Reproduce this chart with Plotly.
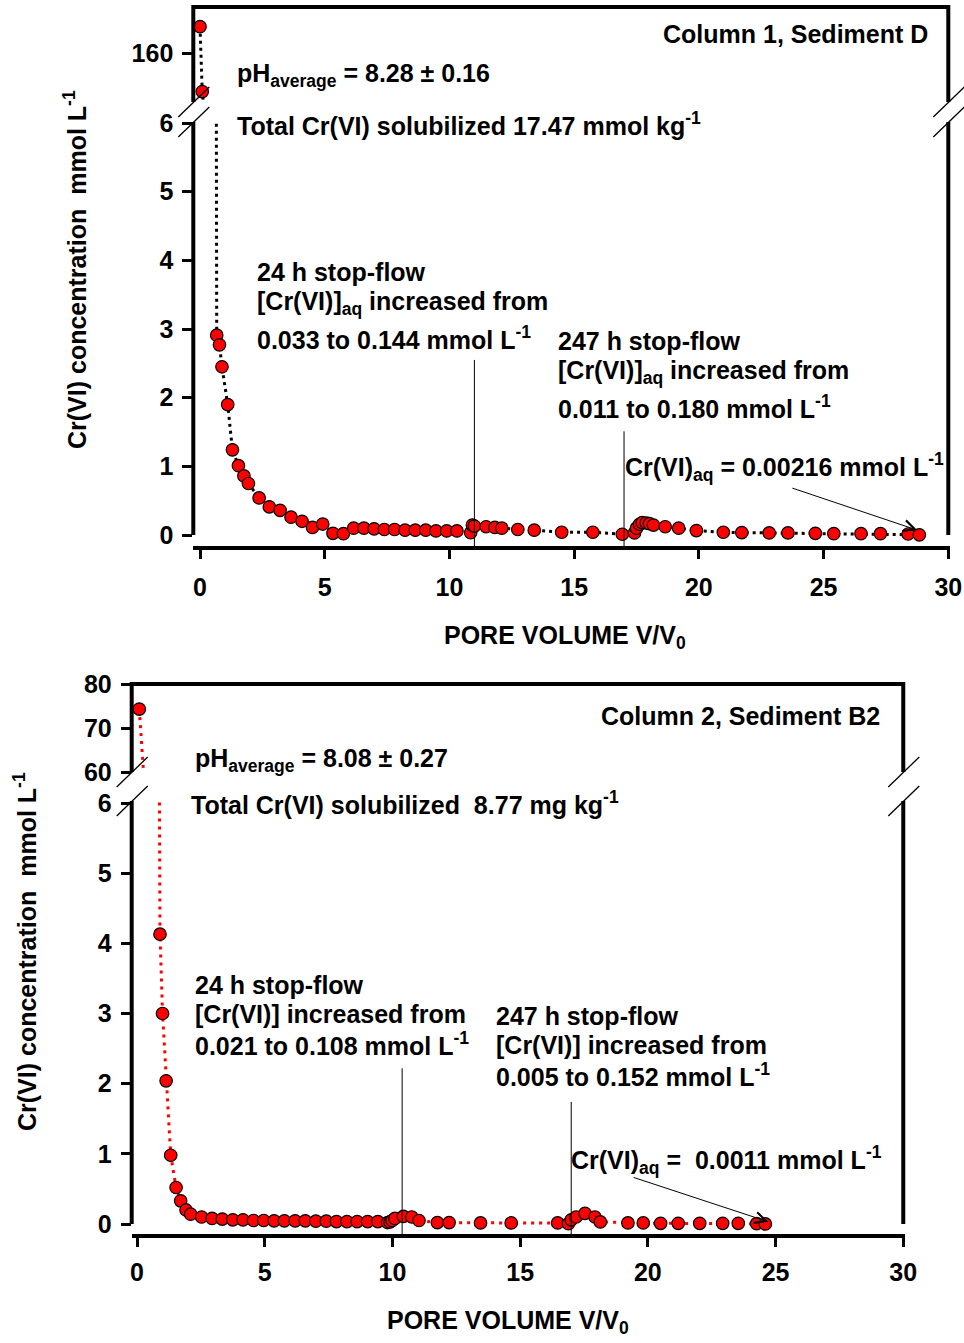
import plotly.graph_objects as go

W, H = 964, 1343

# ---- Column 1, Sediment D : pore volume vs Cr(VI) (mmol/L) ----
pv_d = [0.0, 0.09, 0.67, 0.78, 0.88, 1.11, 1.30, 1.54, 1.76, 1.94, 2.37, 2.78,
        3.21, 3.65, 4.09, 4.51, 4.92, 5.33, 5.75, 6.16, 6.57, 6.98, 7.39, 7.80,
        8.22, 8.63, 9.05, 9.46, 9.89, 10.30, 10.85, 10.92, 11.00, 11.47, 11.82,
        12.10, 12.74, 13.40, 14.50, 15.75, 16.93, 17.42, 17.50, 17.62, 17.73,
        17.89, 18.02, 18.18, 18.65, 19.19, 19.90, 20.98, 21.72, 22.82, 23.57,
        24.67, 25.41, 26.50, 27.28, 28.39, 28.84]
cr_d = [183.0, 127.0, 2.91, 2.77, 2.45, 1.90, 1.24, 1.01, 0.86, 0.75, 0.54, 0.41,
        0.36, 0.26, 0.20, 0.11, 0.16, 0.025, 0.02, 0.10, 0.10, 0.09, 0.08, 0.08,
        0.07, 0.07, 0.07, 0.06, 0.06, 0.06, 0.033, 0.144, 0.13, 0.12, 0.11,
        0.10, 0.08, 0.07, 0.04, 0.04, 0.011, 0.03, 0.10, 0.155, 0.180,
        0.175, 0.165, 0.145, 0.12, 0.10, 0.065, 0.04, 0.035, 0.03, 0.03,
        0.025, 0.02, 0.02, 0.02, 0.015, 0.00216]

# ---- Column 2, Sediment B2 ----
pv_b2 = [0.09, 0.90, 1.00, 1.14, 1.32, 1.53, 1.71, 1.92, 2.10, 2.53, 2.94, 3.34,
         3.75, 4.15, 4.56, 4.96, 5.37, 5.77, 6.19, 6.59, 7.00, 7.41, 7.81, 8.22,
         8.62, 9.03, 9.43, 9.81, 9.91, 9.99, 10.10, 10.43, 10.76, 11.04, 11.76,
         12.22, 13.45, 14.65, 16.47, 16.89, 17.00, 17.19, 17.54, 17.93, 18.14,
         19.22, 19.82, 20.50, 21.19, 22.03, 22.93, 23.54, 24.26, 24.60]
cr_b2 = [74.3, 4.13, 3.00, 2.04, 0.98, 0.52, 0.33, 0.20, 0.14, 0.10, 0.08, 0.07,
         0.06, 0.06, 0.05, 0.05, 0.045, 0.045, 0.045, 0.045, 0.04, 0.04, 0.035, 0.035,
         0.035, 0.035, 0.035, 0.021, 0.03, 0.05, 0.08, 0.108, 0.10, 0.05, 0.02,
         0.02, 0.015, 0.015, 0.015, 0.005, 0.06, 0.10, 0.152, 0.10, 0.03,
         0.015, 0.015, 0.01, 0.01, 0.01, 0.01, 0.01, 0.005, 0.0011]

x_ticks = [0, 5, 10, 15, 20, 25, 30]
y_ticks_main = [0, 1, 2, 3, 4, 5, 6]
y_ticks_top_d = [160]
y_ticks_top_b2 = [60, 70, 80]

# stop-flow events (pore volume) for each column
stops_d = [11.0, 17.0]
stops_b2 = [10.38, 17.0]

FONT = "Liberation Sans, Arial, sans-serif"
FS = 25


def fx(px):
    return px / W


def fy(py):
    return 1 - py / H


# axis geometry in page pixels (converted to paper fractions below)
P1 = dict(xdom=(193.3, 949.8), xr=[-0.269, 30.06],
          ydom=(122, 546), yr=[-0.160, 6.0146],
          tdom=(7, 102), tr=[118, 200])
P2 = dict(xdom=(131.7, 904.8), xr=[-0.2075, 30.06],
          ydom=(801, 1234), yr=[-0.1425, 6.0285],
          tdom=(684, 772), tr=[60, 80])


def xpix(p, v):
    (a, b), (r0, r1) = p["xdom"], p["xr"]
    return a + (v - r0) / (r1 - r0) * (b - a)


def ypix(p, v):
    (a, b), (r0, r1) = p["ydom"], p["yr"]
    return b - (v - r0) / (r1 - r0) * (b - a)


fig = go.Figure()

marker = dict(size=12.5, color="#ff0000", line=dict(color="black", width=1.2))
for xa, ya in (("x", "y"), ("x", "y2")):
    fig.add_trace(go.Scatter(x=pv_d, y=cr_d, mode="lines+markers", xaxis=xa, yaxis=ya,
                             line=dict(color="black", width=3, dash="3px,4px"),
                             marker=marker, cliponaxis=True, hoverinfo="skip"))
for xa, ya in (("x2", "y3"), ("x2", "y4")):
    fig.add_trace(go.Scatter(x=pv_b2, y=cr_b2, mode="lines+markers", xaxis=xa, yaxis=ya,
                             line=dict(color="#ff0000", width=3, dash="3px,5px"),
                             marker=marker, cliponaxis=True, hoverinfo="skip"))

tickfont = dict(family=FONT, size=FS, color="black", weight="bold")
xcommon = dict(tickvals=x_ticks, ticks="outside", ticklen=9, tickwidth=2.5,
               tickcolor="black", showline=True, linewidth=4, linecolor="black",
               showgrid=False, zeroline=False, tickfont=tickfont, automargin=False)
ycommon = dict(ticks="outside", ticklen=10, tickwidth=2.5, tickcolor="black",
               showline=False, showgrid=False, zeroline=False, tickfont=tickfont,
               ticklabelstandoff=4, automargin=False)


def dom_x(p):
    return [fx(p["xdom"][0]), fx(p["xdom"][1])]


def dom_y(d):
    return [fy(d[1]), fy(d[0])]


fig.update_layout(
    width=W, height=H, margin=dict(l=0, r=0, t=0, b=0, autoexpand=False),
    paper_bgcolor="white", plot_bgcolor="rgba(0,0,0,0)", showlegend=False,
    font=dict(family=FONT, color="black"),
    xaxis=dict(domain=dom_x(P1), range=P1["xr"], anchor="y", ticklabelstandoff=7,
               **xcommon),
    yaxis=dict(domain=dom_y(P1["ydom"]), range=P1["yr"], anchor="x",
               tickvals=y_ticks_main, **ycommon),
    yaxis2=dict(domain=dom_y(P1["tdom"]), range=P1["tr"], anchor="x",
                tickvals=y_ticks_top_d, **ycommon),
    xaxis2=dict(domain=dom_x(P2), range=P2["xr"], anchor="y3", ticklabelstandoff=4,
                **xcommon),
    yaxis3=dict(domain=dom_y(P2["ydom"]), range=P2["yr"], anchor="x2",
                tickvals=y_ticks_main, **ycommon),
    yaxis4=dict(domain=dom_y(P2["tdom"]), range=P2["tr"], anchor="x2",
                tickvals=y_ticks_top_b2, **ycommon),
)

shapes = []


def frame(p, xref, yref_main, stops, stop_tops):
    left, right = xpix(p, p["xr"][0]), xpix(p, 30)
    t_top, t_bot = p["tdom"]
    m_top, zero = p["ydom"][0], ypix(p, 0)
    blk = dict(color="black", width=4)
    # upper section: left, top and right edges
    shapes.append(dict(type="path", xref="paper", yref="paper",
                       path=(f"M {fx(left)},{fy(t_bot)} L {fx(left)},{fy(t_top)} "
                             f"L {fx(right)},{fy(t_top)} L {fx(right)},{fy(t_bot)}"),
                       line=blk))
    for xv in (left, right):
        # lower section edges, from zero up to the break
        shapes.append(dict(type="line", xref="paper", yref="paper",
                           x0=fx(xv), x1=fx(xv), y0=fy(zero), y1=fy(m_top), line=blk))
        # axis-break slashes
        for yv in (t_bot, m_top):
            shapes.append(dict(type="line", xref="paper", yref="paper",
                               xsizemode="pixel", ysizemode="pixel",
                               xanchor=fx(xv), yanchor=fy(yv),
                               x0=-15, x1=16, y0=-15, y1=15,
                               line=dict(color="black", width=1.3)))
    # stop-flow marker lines
    for sx, st in zip(stops, stop_tops):
        shapes.append(dict(type="line", xref=xref, yref=yref_main,
                           x0=sx, x1=sx, y0=p["yr"][0], y1=st,
                           line=dict(color="black", width=1)))


frame(P1, "x", "y", stops_d, [2.55, 1.51])
frame(P2, "x2", "y3", stops_b2, [2.22, 1.74])
fig.update_layout(shapes=shapes)

ann = []


def txt(text, x, y, xanchor="left", size=FS, angle=0):
    ann.append(dict(text=f"<b>{text}</b>", x=fx(x), y=fy(y), xref="paper", yref="paper",
                    xanchor=xanchor, yanchor="middle", showarrow=False, textangle=angle,
                    font=dict(family=FONT, size=size, color="black")))


# panel 1 labels
txt("Column 1, Sediment D", 930, 34, xanchor="right")
txt("pH<sub>average</sub> = 8.28 ± 0.16", 235, 75)
txt("Total Cr(VI) solubilized 17.47 mmol kg<sup>-1</sup>", 235, 124)
txt("24 h stop-flow", 255, 272)
txt("[Cr(VI)]<sub>aq</sub> increased from", 255, 303)
txt("0.033 to 0.144 mmol L<sup>-1</sup>", 255, 338)
txt("247 h stop-flow", 556, 341)
txt("[Cr(VI)]<sub>aq</sub> increased from", 556, 372)
txt("0.011 to 0.180 mmol L<sup>-1</sup>", 556, 407)
txt("Cr(VI)<sub>aq</sub> = 0.00216 mmol L<sup>-1</sup>", 623, 467)
txt("PORE VOLUME V/V<sub>0</sub>", 442, 637)
txt("Cr(VI) concentration&nbsp; mmol L<sup>-1</sup>", 75, 270, xanchor="center", angle=-90)

# panel 2 labels
txt("Column 2, Sediment B2", 882, 716, xanchor="right")
txt("pH<sub>average</sub> = 8.08 ± 0.27", 193, 760)
txt("Total Cr(VI) solubilized&nbsp; 8.77 mg kg<sup>-1</sup>", 189, 803)
txt("24 h stop-flow", 193, 985)
txt("[Cr(VI)] increased from", 193, 1014)
txt("0.021 to 0.108 mmol L<sup>-1</sup>", 193, 1044)
txt("247 h stop-flow", 494, 1016)
txt("[Cr(VI)] increased from", 494, 1045)
txt("0.005 to 0.152 mmol L<sup>-1</sup>", 494, 1075)
txt("Cr(VI)<sub>aq</sub> =&nbsp; 0.0011 mmol L<sup>-1</sup>", 569, 1160)
txt("PORE VOLUME V/V<sub>0</sub>", 385, 1322)
txt("Cr(VI) concentration&nbsp; mmol L<sup>-1</sup>", 25, 952, xanchor="center", angle=-90)

# arrows to the final effluent concentration
arrow = dict(text="", showarrow=True, arrowhead=5, arrowsize=2.2, arrowwidth=1,
             arrowcolor="black")
ann.append(dict(x=pv_d[-1] - 0.09, y=cr_d[-1] + 0.07, xref="x", yref="y",
                ax=23.69, ay=0.69, axref="x", ayref="y", **arrow))
ann.append(dict(x=pv_b2[-1] + 0.12, y=cr_b2[-1] + 0.03, xref="x2", yref="y3",
                ax=19.39, ay=0.67, axref="x2", ayref="y3", **arrow))

fig.update_layout(annotations=ann)
fig.write_html("out.html")
